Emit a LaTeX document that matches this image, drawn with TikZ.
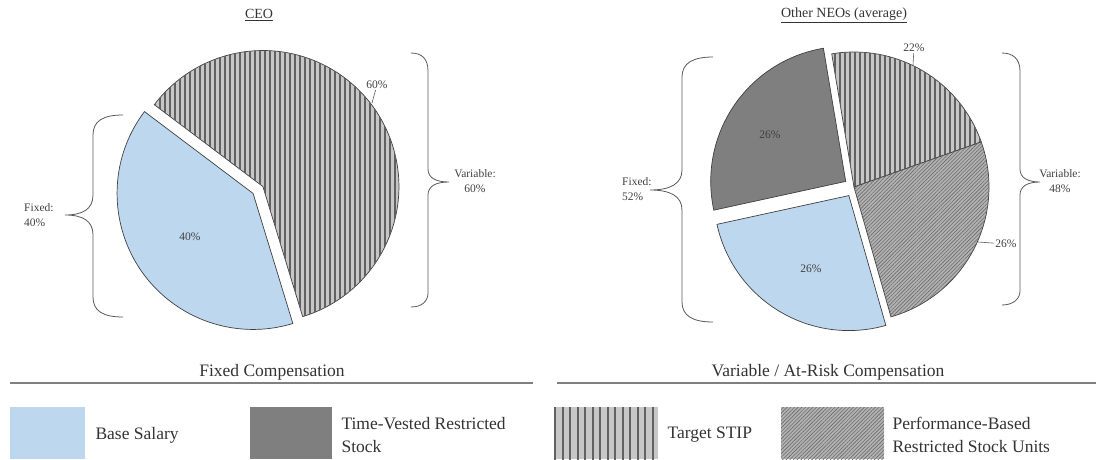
\documentclass[tikz,border=0pt]{standalone}
\usepackage{fontspec}
\setmainfont{Liberation Serif}
\usetikzlibrary{calc,patterns.meta}

\definecolor{salaryblue}{HTML}{BDD7EE}
\definecolor{stockgray}{HTML}{7F7F7F}

\tikzstyle{slice} = [draw=black!75,line width=0.7pt]
\tikzstyle{basesal} = [fill=salaryblue]
\tikzstyle{tvrs} = [fill=stockgray]
\tikzstyle{stip} = [fill=black!22,postaction={pattern={Lines[angle=90,distance=5pt,line width=1.5pt]},pattern color=black!62}]
\tikzstyle{stipkey} = [fill=black!22,postaction={pattern={Lines[angle=90,distance=7.5pt,line width=2pt]},pattern color=black!62}]
\tikzstyle{psu} = [fill=black!30,postaction={pattern={Lines[angle=45,distance=2.6pt,line width=.6pt]},pattern color=black!58}]
\tikzstyle{pct} = [font=\fontsize{11.5}{15}\selectfont,text=black!75,inner sep=1pt]
\tikzstyle{head} = [font=\fontsize{14}{16}\selectfont,text=black!80]
\tikzstyle{sect} = [font=\fontsize{17.5}{23}\selectfont,text=black!80]
\tikzstyle{legend} = [font=\fontsize{17.5}{23}\selectfont,text=black!80,align=left,anchor=west]
\tikzstyle{brace} = [draw=black!65,line width=0.8pt]
\tikzstyle{leader} = [draw=black!65,line width=0.6pt]
\tikzstyle{rule} = [draw=black!50,line width=2.5pt]

\begin{document}
\begin{tikzpicture}[x=1pt,y=1pt]
\useasboundingbox (0,0) rectangle (1096,459);

% CEO
\coordinate (c1) at (258,269);
\path[slice,stip] ($(c1)+(35:6)$) -- +(-73:136) arc[start angle=-73,end angle=143,radius=136] -- cycle;
\path[slice,basesal] ($(c1)+(215:6)$) -- +(143:136) arc[start angle=143,end angle=287,radius=136] -- cycle;

\node[head] (1) at (259,444) {\underline{CEO}};
\node[pct] (2) at (377,374) {60\%};
\node[pct] (3) at (190,222) {40\%};
\node[pct,align=left,anchor=west] (4) at (23,243.5) {Fixed:\\40\%};
\node[pct,align=center] (5) at (475,277.5) {Variable:\\60\%};
\coordinate (e1) at (372,356);
\path[leader] (2) -- (e1);

\draw[brace] (123,344) .. controls (103,344) and (93,338) .. (93,324) -- (93,264)
  .. controls (93,250) and (83,244) .. (65,244) .. controls (83,244) and (93,238) .. (93,224)
  -- (93,162) .. controls (93,148) and (103,142) .. (123,142);
\draw[brace] (411,406) .. controls (422,406) and (428,400) .. (428,388) -- (428,290)
  .. controls (428,281) and (436,277) .. (449,277) .. controls (436,277) and (428,273) .. (428,264)
  -- (428,166) .. controls (428,158) and (422,152) .. (411,152);

% Other NEOs
\coordinate (c2) at (854,272);
\path[slice,stip] (c2) -- +(19.5:135) arc[start angle=19.5,end angle=99.5,radius=135] -- cycle;
\path[slice,psu] (c2) -- +(-74.1:135) arc[start angle=-74.1,end angle=19.5,radius=135] -- cycle;
\path[slice,basesal] ($(c2)+(-120.9:10)$) -- +(-167.7:135) arc[start angle=-167.7,end angle=-74.1,radius=135] -- cycle;
\path[slice,tvrs] ($(c2)+(146:10)$) -- +(99.5:135) arc[start angle=99.5,end angle=192.3,radius=135] -- cycle;

\node[head] (10) at (844,444) {\underline{Other NEOs (average)}};
\node[pct] (11) at (914,411) {22\%};
\node[pct] (12) at (770,324) {26\%};
\node[pct] (13) at (811,190) {26\%};
\node[pct] (14) at (1006,215) {26\%};
\node[pct,align=left,anchor=west] (15) at (621,270) {Fixed:\\52\%};
\node[pct,align=center] (16) at (1060,277.5) {Variable:\\48\%};
\coordinate (e2) at (913,394);
\coordinate (e3) at (978,217);
\path[leader] (11) -- (e2);
\path[leader] (14) -- (e3);

\draw[brace] (713,402) .. controls (693,402) and (682,396) .. (682,382) -- (682,289)
  .. controls (682,275) and (670,269) .. (650,269) .. controls (670,269) and (682,263) .. (682,249)
  -- (682,157) .. controls (682,143) and (693,137) .. (713,137);
\draw[brace] (1002,406) .. controls (1013,406) and (1020,400) .. (1020,388) -- (1020,290)
  .. controls (1020,281) and (1028,277) .. (1040,277) .. controls (1028,277) and (1020,273) .. (1020,264)
  -- (1020,168) .. controls (1020,160) and (1013,154) .. (1002,154);

% legend
\node[sect] (20) at (272,87) {Fixed Compensation};
\node[sect] (21) at (828,87) {Variable / At-Risk Compensation};
\draw[rule] (10,76) -- (533,76);
\draw[rule] (557,76) -- (1096,76);

\fill[basesal] (10,0) rectangle (85,52);
\node[legend] (22) at (92,24) {Base Salary};
\fill[tvrs] (250,0) rectangle (332,52);
\node[legend] (23) at (338,24) {Time-Vested Restricted\\Stock};
\fill[stipkey] (554,0) rectangle (658,52);
\node[legend] (24) at (664,24) {Target STIP};
\fill[psu] (781,0) rectangle (884,52);
\node[legend] (25) at (889,24) {Performance-Based\\Restricted Stock Units};
\end{tikzpicture}
\end{document}
